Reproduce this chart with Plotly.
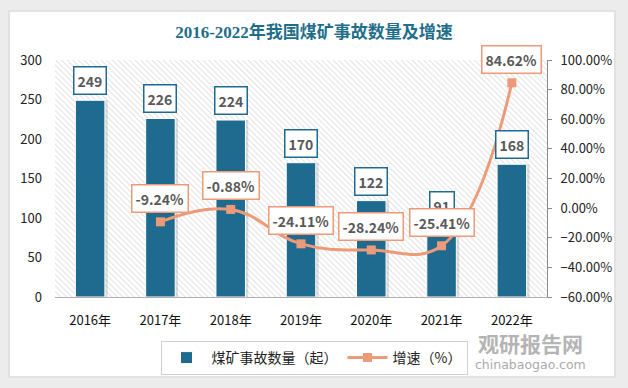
import base64
import plotly.graph_objects as go

years = ["2016年", "2017年", "2018年", "2019年", "2020年", "2021年", "2022年"]
accidents = [249, 226, 224, 170, 122, 91, 168]
growth = [None, -9.24, -0.88, -24.11, -28.24, -25.41, 84.62]
growth_labels = ["", "-9.24%", "-0.88%", "-24.11%", "-28.24%", "-25.41%", "84.62%"]

BAR_COLOR = "#1E6B8F"
LINE_COLOR = "#EC9A78"
FONT = "Noto Sans CJK SC"

W, H = 628, 388
L, R, T, B = 55, 81, 60, 91
pw, ph = W - L - R, H - T - B
BW = 0.42

fig = go.Figure()
# soft shadow behind the bars
fig.add_trace(go.Bar(
    x=years, y=accidents, name="shadow", showlegend=False, hoverinfo="skip",
    marker=dict(color="rgba(0,0,0,0.13)", line=dict(width=0)),
    width=BW + 0.02, offset=-BW / 2 + 0.02, yaxis="y",
))
fig.add_trace(go.Bar(
    x=years, y=accidents, name="煤矿事故数量（起）",
    marker=dict(color=BAR_COLOR, line=dict(color="white", width=1)),
    width=BW, offset=-BW / 2, yaxis="y",
))
lx = [x for x, g in zip(years, growth) if g is not None]
ly = [g for g in growth if g is not None]
fig.add_trace(go.Scatter(
    x=lx, y=ly, name="增速（%）", mode="lines+markers",
    line=dict(color=LINE_COLOR, width=3, shape="spline", smoothing=1.2),
    marker=dict(symbol="square", size=9, color=LINE_COLOR),
    yaxis="y2",
))

ann = []
for x, v in zip(years, accidents):
    ann.append(dict(x=x, y=v, xref="x", yref="y", text=f"<b>{v}</b>", showarrow=False,
                    yanchor="bottom", yshift=5, bgcolor="white", bordercolor=BAR_COLOR,
                    borderwidth=1.5, borderpad=3,
                    font=dict(family=FONT, size=14, color="#595959")))
for x, g, t in zip(years, growth, growth_labels):
    if g is None:
        continue
    ann.append(dict(x=x, y=g, xref="x", yref="y2", text=f"<b>{t}</b>", showarrow=False,
                    yanchor="bottom", yshift=9, bgcolor="white", bordercolor=LINE_COLOR,
                    borderwidth=1.5, borderpad=3,
                    font=dict(family=FONT, size=14, color="#595959")))


def px_x(p):
    return (p - L) / pw


def px_y(p):
    return 1 - (p - T) / ph


# watermark
ann.append(dict(xref="paper", yref="paper", x=px_x(530), y=px_y(343),
                text="<b>观研报告网</b>", showarrow=False, xanchor="center", yanchor="middle",
                font=dict(family=FONT, size=21, color="#b4b4b4")))
ann.append(dict(xref="paper", yref="paper", x=px_x(530), y=px_y(364),
                text="chinabaogao.com", showarrow=False, xanchor="center", yanchor="middle",
                font=dict(family="DejaVu Sans", size=12.5, color="#ababab")))

# hatch background for the plot area
svg = (f'<svg xmlns="http://www.w3.org/2000/svg" width="{pw}" height="{ph}" preserveAspectRatio="none">'
       '<defs><pattern id="h" width="4" height="4" patternUnits="userSpaceOnUse" patternTransform="rotate(-45)">'
       '<line x1="0" y1="0" x2="0" y2="4" stroke="#d4d4d4" stroke-width="1.3"/></pattern></defs>'
       f'<rect width="{pw}" height="{ph}" fill="white"/><rect width="{pw}" height="{ph}" fill="url(#h)"/></svg>')
src = "data:image/svg+xml;base64," + base64.b64encode(svg.encode()).decode()

shapes = [
    dict(type="rect", xref="paper", yref="paper", x0=px_x(0), x1=px_x(624), y0=px_y(2), y1=px_y(386),
         line=dict(color="#ececec", width=20), fillcolor="rgba(0,0,0,0)", layer="below"),
    dict(type="rect", xref="paper", yref="paper", x0=px_x(9), x1=px_x(615), y0=px_y(11), y1=px_y(377),
         line=dict(color="#e2e2e2", width=2), fillcolor="rgba(0,0,0,0)", layer="below"),
]

fig.update_layout(
    width=W, height=H,
    margin=dict(l=L, r=R, t=T, b=B, autoexpand=False),
    paper_bgcolor="white", plot_bgcolor="white",
    barmode="overlay",
    title=dict(text="<b>2016-2022年我国煤矿事故数量及增速</b>", x=0.5, xref="container",
               y=1 - 32 / H, yref="container", yanchor="middle", xanchor="center",
               font=dict(family="Liberation Serif, Noto Sans CJK SC", size=17, color="#1F6E8C")),
    font=dict(family=FONT, size=13, color="#222222"),
    xaxis=dict(showline=True, linecolor="#b0b0b0", linewidth=1, ticks="", showgrid=False,
               tickfont=dict(size=13, color="#111111"), ticklabelstandoff=11),
    yaxis=dict(range=[0, 300], dtick=50, showgrid=False, showline=False, zeroline=False,
               ticks="", tickfont=dict(size=13, color="#222222"), ticklabelstandoff=12),
    yaxis2=dict(range=[-60, 100], dtick=20, overlaying="y", side="right", showgrid=False,
                zeroline=False, showline=True, linecolor="#8a8a8a", ticks="outside", ticklen=4,
                tickcolor="#8a8a8a", tickformat=".2f", ticksuffix="%",
                tickfont=dict(size=13, color="#222222"), ticklabelstandoff=6),
    legend=dict(orientation="h", xref="container", yref="container", x=0.5, xanchor="center",
                y=1 - 341 / H, yanchor="top", bordercolor="#d0d0d0", borderwidth=1,
                font=dict(family=FONT, size=14, color="#222222"), bgcolor="white",
                itemwidth=40),
    annotations=ann,
    shapes=shapes,
    images=[dict(source=src, xref="paper", yref="paper", x=0, y=1, sizex=1, sizey=1,
                 xanchor="left", yanchor="top", sizing="stretch", layer="below")],
    showlegend=True,
    hovermode=False,
)

fig.write_html("out.html", config={"displayModeBar": False},
               post_script="document.body.style.margin='0';document.body.style.overflow='hidden';")
